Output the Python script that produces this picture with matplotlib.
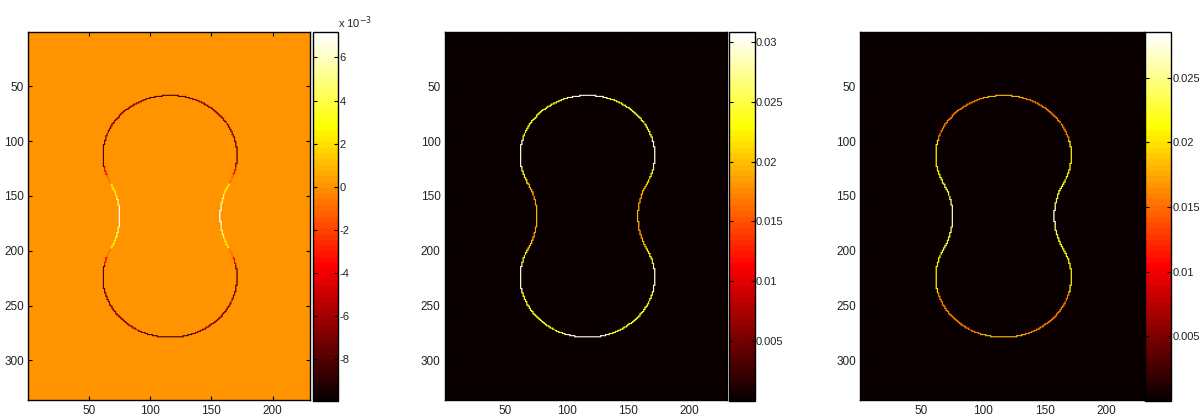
import matplotlib.pyplot as plt
import numpy as np

plt.rcParams['font.family'] = ['Liberation Sans', 'DejaVu Sans']
plt.rcParams['font.size'] = 8

#%% DATA

nrow, ncol = 336, 230          # image size in pixels
cx = 116.3                     # symmetry axis (column)
cy_mid = 169.3                 # neck row
lobe_off = 55.5                # lobe centres at cy_mid -/+ lobe_off
r_lobe = 54.7                  # lobe radius
waist = 41.0                   # half width at the neck

# value of the contour pixels in bands of row (upper half, mirrored below)
band_y = [0, 62, 100, 125, 132, 140, 150, 160]
val_1 = [-8.5e-3, -7.0e-3, -7.8e-3, -4.0e-3, -1.0e-3, 2.5e-3, 4.5e-3, 6.8e-3]
val_2 = [0.0300, 0.0240, 0.0295, 0.0240, 0.0225, 0.0200, 0.0185, 0.0200]
val_3 = [0.0185, 0.0160, 0.0205, 0.0205, 0.0215, 0.0225, 0.0235, 0.0275]

lim_1 = (-9.92e-3, 7.16e-3)
lim_2 = (0.0, 0.0308)
lim_3 = (0.0, 0.0285)

ticks_1 = [-8e-3, -6e-3, -4e-3, -2e-3, 0, 2e-3, 4e-3, 6e-3]
labels_1 = ['-8', '-6', '-4', '-2', '0', '2', '4', '6']
ticks_2 = [0.005, 0.01, 0.015, 0.02, 0.025, 0.03]
ticks_3 = [0.005, 0.01, 0.015, 0.02, 0.025]

#%% CONTOUR -> PIXELS

R = (waist**2 + lobe_off**2 - r_lobe**2) / (2*(r_lobe - waist))  # neck arc radius
dyt = lobe_off*R/(R + r_lobe)                                    # tangent point offset

t = np.linspace(0, 2*np.pi, 6000)
xs = []
ys = []
for s in (-1, 1):   # two lobes
    x = cx + r_lobe*np.cos(t)
    y = cy_mid + s*lobe_off + r_lobe*np.sin(t)
    keep = s*(y - cy_mid) >= dyt
    xs.append(x[keep]); ys.append(y[keep])
for s in (-1, 1):   # two neck arcs
    ncx = cx + s*(waist + R)
    x = ncx + R*np.cos(t)
    y = cy_mid + R*np.sin(t)
    keep = (np.abs(y - cy_mid) <= dyt) & (s*(x - ncx) < 0)
    xs.append(x[keep]); ys.append(y[keep])
xs = np.concatenate(xs)
ys = np.concatenate(ys)

col = np.clip(np.round(xs).astype(int) - 1, 0, ncol - 1)
row = np.clip(np.round(ys).astype(int) - 1, 0, nrow - 1)
yy = cy_mid - np.abs(row + 1 - cy_mid)
band = np.clip(np.searchsorted(band_y, yy, side='right') - 1, 0, len(band_y) - 1)

def field(vals):
    z = np.zeros((nrow, ncol))
    z[row, col] = np.array(vals)[band]
    return z

#%% PLOT

hot = plt.get_cmap('hot', 64)
fig = plt.figure(figsize=(12, 4.19), dpi=100, facecolor='w')

ax_pos = [[0.0236, 0.0442, 0.2348, 0.8795],
          [0.3705, 0.0442, 0.2353, 0.8795],
          [0.7167, 0.0442, 0.2367, 0.8795]]
cb_pos = [[0.2608, 0.0432, 0.0210, 0.8795],
          [0.6078, 0.0432, 0.0210, 0.8795],
          [0.9544, 0.0432, 0.0214, 0.8795]]

panels = [(val_1, lim_1, ticks_1, labels_1),
          (val_2, lim_2, ticks_2, [f'{v:g}' for v in ticks_2]),
          (val_3, lim_3, ticks_3, [f'{v:g}' for v in ticks_3])]

for i in range(3):
    vals, lim, tks, lbl = panels[i]
    ax = fig.add_axes(ax_pos[i])
    im = ax.imshow(field(vals), cmap=hot, vmin=lim[0], vmax=lim[1],
                   extent=(0.5, ncol + 0.5, nrow + 0.5, 0.5), aspect='auto')
    ax.set_xticks([50, 100, 150, 200])
    ax.set_yticks([50, 100, 150, 200, 250, 300])
    ax.tick_params(direction='in', length=3, top=True, right=True, pad=3,
                   labelsize=8.5, labelcolor='#222222')
    for sp in ax.spines.values():
        sp.set_linewidth(1.0)

    cax = fig.add_axes(cb_pos[i])
    cb = fig.colorbar(im, cax=cax)
    cb.set_ticks(tks)
    cb.set_ticklabels(lbl)
    cax.tick_params(direction='in', length=3, left=True, right=True, pad=1,
                    labelsize=8, labelcolor='#222222')
    cb.outline.set_linewidth(1.0)

fig.text(0.2815, 0.947, r'x 10$^{-3}$', fontsize=8, va='center', color='#222222')

plt.savefig('out.png', dpi=100)
